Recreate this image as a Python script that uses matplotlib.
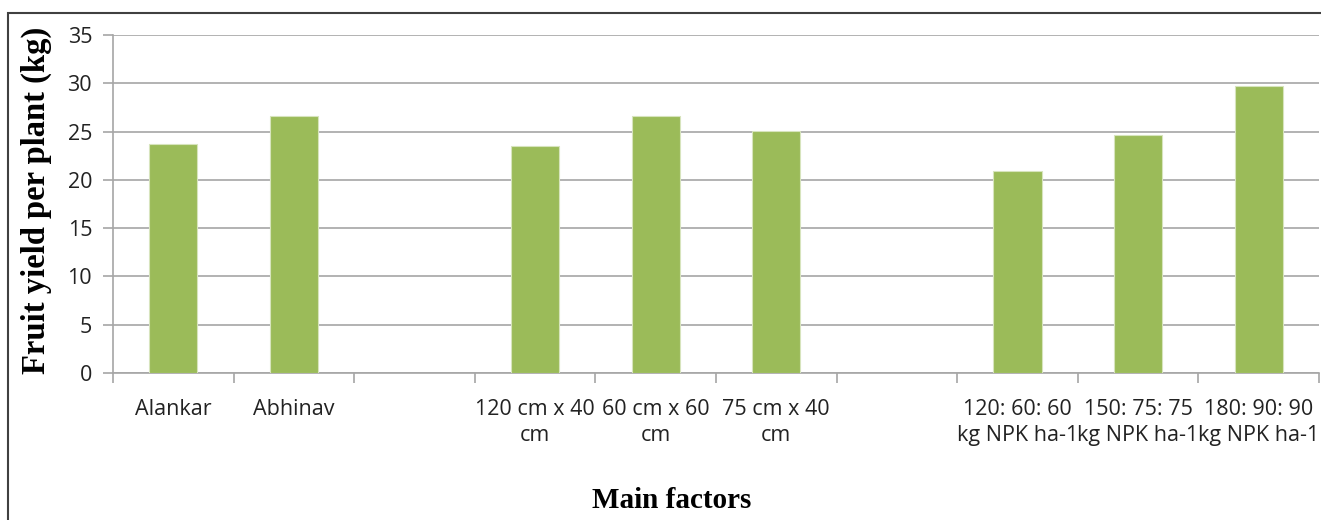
import numpy as np
import matplotlib.pyplot as plt
from matplotlib.patches import Rectangle
from matplotlib.ticker import FixedLocator

# fruit yield per plant (kg) for each main factor, in groups
varieties = ["Alankar", "Abhinav"]
variety_yield = [23.7, 26.6]

spacings = ["120 cm x 40\ncm", "60 cm x 60\ncm", "75 cm x 40\ncm"]
spacing_yield = [23.5, 26.6, 25.1]

fertilizers = ["120: 60: 60\nkg NPK ha-1", "150: 75: 75\nkg NPK ha-1", "180: 90: 90\nkg NPK ha-1"]
fertilizer_yield = [20.9, 24.6, 29.7]

y_ticks = [0, 5, 10, 15, 20, 25, 30, 35]

# one empty slot between groups
labels, values, pos = [], [], []
slot = 0
for names, ys in [(varieties, variety_yield), (spacings, spacing_yield), (fertilizers, fertilizer_yield)]:
    for n, v in zip(names, ys):
        labels.append(n)
        values.append(v)
        pos.append(slot)
        slot += 1
    slot += 1
n_slots = slot - 1

fig = plt.figure(figsize=(13.21, 5.20), dpi=100)
ax = fig.add_axes([113 / 1321, 1 - 373 / 520, 1206 / 1321, 338 / 520])

grid_c = "#a6a6a6"
ax.bar(pos, values, width=0.4, color="#9bbb59", edgecolor="#d7e4bd", linewidth=0.8, zorder=3)

ax.set_xlim(-0.5, n_slots - 0.5)
ax.set_ylim(0, 35)
ax.set_yticks(y_ticks)
ax.yaxis.grid(True, color=grid_c, linewidth=1.2, zorder=0)

ax.set_xticks(pos)
ax.set_xticklabels(labels, fontsize=15.5, family="Open Sans", color="#222222", linespacing=1.3)
ax.xaxis.set_minor_locator(FixedLocator(np.arange(-0.5, n_slots, 1.0)))
ax.tick_params(axis="x", which="major", length=0, pad=19)
ax.tick_params(axis="x", which="minor", length=7, color=grid_c, width=1.2)
ax.tick_params(axis="y", length=7, color=grid_c, width=1.2, pad=8, labelsize=15.5)
for t in ax.get_yticklabels():
    t.set_family("Open Sans")
    t.set_color("#222222")

for s in ["top", "right"]:
    ax.spines[s].set_visible(False)
for s in ["left", "bottom"]:
    ax.spines[s].set_color(grid_c)
    ax.spines[s].set_linewidth(1.2)

fig.text(36 / 1321, 1 - 200 / 520, "Fruit yield per plant (kg)", rotation=90,
         ha="center", va="center", family="Liberation Serif", weight="bold", fontsize=23.5)
fig.text(672 / 1321, 1 - 500 / 520, "Main factors",
         ha="center", va="center", family="Liberation Serif", weight="bold", fontsize=21)

# chart border (runs off the right and bottom edges)
fig.patches.append(Rectangle((8 / 1321, -0.1), 1.2, 1 - 13 / 520 + 0.1, transform=fig.transFigure,
                             fill=False, edgecolor="#404040", linewidth=1.5))

fig.savefig("out.png", dpi=100)
